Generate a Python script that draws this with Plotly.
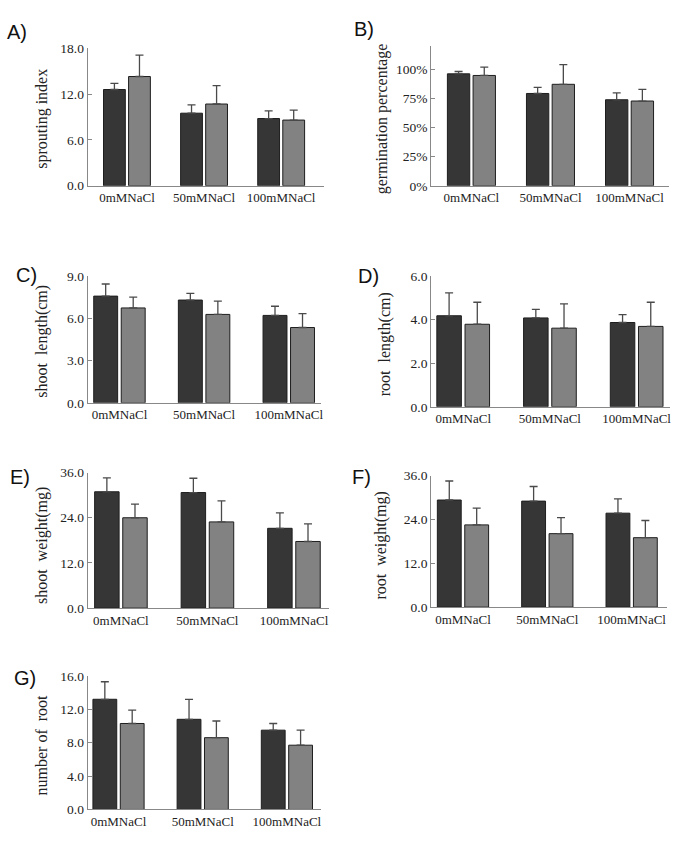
import plotly.graph_objects as go

W, H = 685, 844

categories = ["0mMNaCl", "50mMNaCl", "100mMNaCl"]

# Panel A: sprouting index
a_dark = [12.6, 9.5, 8.8]
a_dark_err = [0.8, 1.1, 1.0]
a_gray = [14.3, 10.7, 8.6]
a_gray_err = [2.8, 2.4, 1.3]

# Panel B: germination percentage (%)
b_dark = [96.3, 79.4, 74.0]
b_dark_err = [2.0, 5.3, 5.9]
b_gray = [94.9, 87.3, 72.9]
b_gray_err = [7.1, 16.9, 10.1]

# Panel C: shoot length (cm)
c_dark = [7.58, 7.30, 6.21]
c_dark_err = [0.86, 0.47, 0.65]
c_gray = [6.74, 6.28, 5.35]
c_gray_err = [0.77, 0.95, 0.98]

# Panel D: root length (cm)
d_dark = [4.18, 4.08, 3.87]
d_dark_err = [1.05, 0.39, 0.36]
d_gray = [3.79, 3.61, 3.69]
d_gray_err = [1.01, 1.12, 1.11]

# Panel E: shoot weight (mg)
e_dark = [30.9, 30.7, 21.2]
e_dark_err = [3.7, 3.8, 4.1]
e_gray = [24.0, 22.9, 17.7]
e_gray_err = [3.6, 5.6, 4.7]

# Panel F: root weight (mg)
f_dark = [29.3, 29.0, 25.7]
f_dark_err = [5.2, 4.0, 3.9]
f_gray = [22.5, 20.1, 19.0]
f_gray_err = [4.6, 4.4, 4.7]

# Panel G: number of root
g_dark = [13.2, 10.8, 9.5]
g_dark_err = [2.1, 2.4, 0.8]
g_gray = [10.3, 8.6, 7.7]
g_gray_err = [1.6, 2.0, 1.8]

DARK = "#363636"
GRAY = "#828282"
SERIF = "Liberation Serif"
SANS = "Liberation Sans"

panels = [
    ("A)", "sprouting index", a_dark, a_dark_err, a_gray, a_gray_err,
     (88, 325, 42, 182), [-0.51, 2.55], [0, 18], [0, 6, 12, 18],
     ["0.0", "6.0", "12.0", "18.0"], (42, 114), (17, 25)),
    ("B)", "germination percentage", b_dark, b_dark_err, b_gray, b_gray_err,
     (433, 672, 40, 182), [-0.51, 2.50], [0, 120], [0, 25, 50, 75, 100, 120],
     ["0%", "25%", "50%", "75%", "100%", ""], (384, 114), (366, 22)),
    ("C)", "shoot  length(cm)", c_dark, c_dark_err, c_gray, c_gray_err,
     (88, 322, 274, 403), [-0.376, 2.376], [0, 9], [0, 3, 6, 9],
     ["0.0", "3.0", "6.0", "9.0"], (42, 340), (27, 273)),
    ("D)", "root  length(cm)", d_dark, d_dark_err, d_gray, d_gray_err,
     (433, 673, 274, 407), [-0.37, 2.385], [0, 6], [0, 2, 4, 6],
     ["0.0", "2.0", "4.0", "6.0"], (387, 343), (370, 274)),
    ("E)", "shoot  weight(mg)", e_dark, e_dark_err, e_gray, e_gray_err,
     (88, 330, 474, 612), [-0.385, 2.40], [0, 36], [0, 12, 24, 36],
     ["0.0", "12.0", "24.0", "36.0"], (42, 548), (20, 479)),
    ("F)", "root  weight(mg)", f_dark, f_dark_err, f_gray, f_gray_err,
     (433, 670, 477, 611), [-0.378, 2.42], [0, 36], [0, 12, 24, 36],
     ["0.0", "12.0", "24.0", "36.0"], (383, 548), (363, 478)),
    ("G)", "number of  root", g_dark, g_dark_err, g_gray, g_gray_err,
     (88, 322, 681, 817), [-0.367, 2.40], [0, 16], [0, 4, 8, 12, 16],
     ["0.0", "4.0", "8.0", "12.0", "16.0"], (42, 751), (25, 683)),
]

fig = go.Figure()
annotations = []
for i, (letter, title, dk, dke, gr, gre, box, xr, yr, tv, tt, tpos, lpos) in enumerate(panels):
    n = "" if i == 0 else str(i + 1)
    xa, ya = "x" + n, "y" + n
    for vals, errs, col in ((dk, dke, DARK), (gr, gre, GRAY)):
        fig.add_trace(go.Bar(
            x=list(range(len(categories))), y=vals, xaxis=xa, yaxis=ya,
            marker=dict(color=col, line=dict(color="#1e1e1e", width=1)),
            error_y=dict(type="data", array=errs, arrayminus=[0] * len(errs),
                         symmetric=False, color="#4a4a4a", thickness=1.3, width=4),
            showlegend=False, hoverinfo="skip",
        ))
    x0, x1, y0, y1 = box
    fig.layout["xaxis" + n] = dict(
        domain=[x0 / W, x1 / W], anchor=ya, range=xr,
        tickvals=list(range(len(categories))), ticktext=categories,
        showline=True, linecolor="#888888", linewidth=1, ticks="",
        showgrid=False, zeroline=False,
        tickfont=dict(family=SERIF, size=13, color="#222"),
    )
    fig.layout["yaxis" + n] = dict(
        domain=[1 - y1 / H, 1 - y0 / H], anchor=xa, range=yr,
        tickvals=tv, ticktext=tt,
        showline=True, linecolor="#888888", linewidth=1,
        ticks="inside", ticklen=4, tickcolor="#888888",
        showgrid=False, zeroline=False,
        tickfont=dict(family=SERIF, size=13.5, color="#222"),
    )
    annotations.append(dict(
        text=title, xref="paper", yref="paper", x=tpos[0] / W, y=1 - tpos[1] / H,
        xanchor="center", yanchor="middle", textangle=-90, showarrow=False,
        font=dict(family=SERIF, size=16, color="#222"),
    ))
    annotations.append(dict(
        text=letter, xref="paper", yref="paper", x=lpos[0] / W, y=1 - lpos[1] / H,
        xanchor="center", yanchor="middle", showarrow=False,
        font=dict(family=SANS, size=20, color="#111"),
    ))

fig.update_layout(
    width=W, height=H, autosize=False,
    margin=dict(l=0, r=0, t=0, b=0),
    paper_bgcolor="white", plot_bgcolor="white",
    barmode="group", bargap=0.35, bargroupgap=0.13,
    annotations=annotations,
)

fig.write_html("out.html", post_script="document.body.style.margin='0';",
               config={"displayModeBar": False})
